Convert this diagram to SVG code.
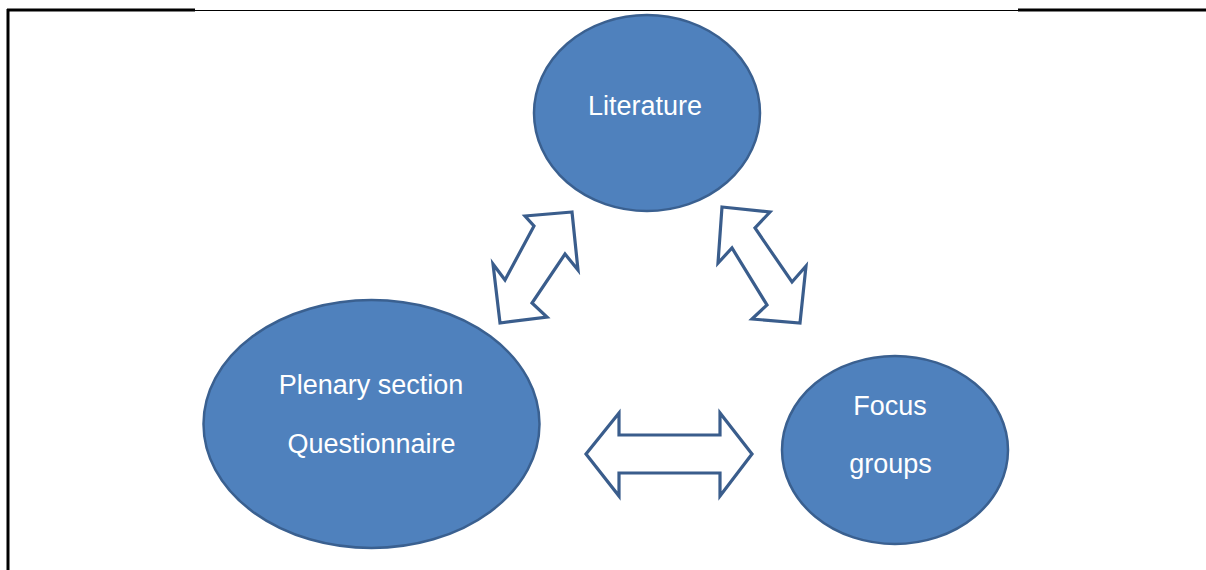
<svg xmlns="http://www.w3.org/2000/svg" width="1206" height="570" viewBox="0 0 1206 570">
<style>
.node{fill:#4f81bd;stroke:#3a6090;stroke-width:2.5}
.lbl{fill:#ffffff;font-family:"Liberation Sans",Arial,sans-serif;font-size:27px;text-anchor:middle}
.arr{fill:#ffffff;stroke:#3a5d8c;stroke-width:3.2;stroke-linejoin:miter}
.frame{stroke:#000000;fill:none}
</style>
<rect width="1206" height="570" fill="#ffffff"/>
<g id="frame">
<line class="frame" x1="8" y1="10.5" x2="1206" y2="10.5" stroke-width="1"/>
<line class="frame" x1="7" y1="10" x2="195" y2="10" stroke-width="3"/>
<line class="frame" x1="1018" y1="10" x2="1206" y2="10" stroke-width="3"/>
<line class="frame" x1="8" y1="9" x2="8" y2="570" stroke-width="3"/>
</g>
<g id="connectors">
<polygon class="arr" points="572,212 525,216 534,226 505,280 493,264 500,323 547,317 532,303 565,254 578,270"/>
<polygon class="arr" points="722,207 770,212 755,228 792,282 806,266 800,323 752,319 767,305 732,248 718,263"/>
<polygon class="arr" points="586,454 619,413 619,435 720,435 720,413 752,454 720,496 720,473 619,473 619,496"/>
</g>
<g id="literature">
<ellipse class="node" cx="647" cy="113" rx="113" ry="98"/>
<text class="lbl" x="645" y="115">Literature</text>
</g>
<g id="plenary">
<ellipse class="node" cx="371.5" cy="424" rx="168" ry="124"/>
<text class="lbl" x="371" y="394">Plenary section</text>
<text class="lbl" x="371.5" y="453">Questionnaire</text>
</g>
<g id="focus">
<ellipse class="node" cx="895" cy="450" rx="113" ry="94"/>
<text class="lbl" x="890" y="415">Focus</text>
<text class="lbl" x="890.5" y="473">groups</text>
</g>
</svg>
